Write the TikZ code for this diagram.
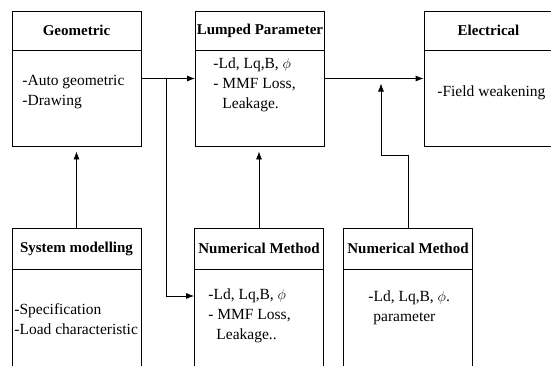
\documentclass[tikz,border=0pt]{standalone}
\usepackage{fontspec}
\setmainfont{Liberation Serif}
\usetikzlibrary{arrows.meta}
\usetikzlibrary{calc}
\usetikzlibrary{positioning}

\begin{document}
\begin{tikzpicture}[
  x=1pt, y=-1pt,
  > = {Latex[length=8pt,width=6pt]},
  line width=0.8pt,
  box/.style = {draw, minimum width=129pt, minimum height=135pt, inner sep=0pt},
  lowbox/.style = {box, minimum height=142pt},
  head/.style = {draw, minimum width=129pt, minimum height=39pt, inner sep=0pt, font=\rmfamily\bfseries\fontsize{15}{18}\selectfont},
  body/.style = {align=left, inner sep=0pt, font=\rmfamily\fontsize{15.5}{20}\selectfont},
  feed/.style = {->, shorten >=5pt}
  ]
	\useasboundingbox (0,0) rectangle (551,365);

	% upper row
	\node[box] (geo) at (76.5,78.5) {};
	\node[box] (lump) at (260,78.5) {};
	\node[box] (elec) at (488.5,78.5) {};

	% lower row
	\node[lowbox] (sys) at (76.5,299) {};
	\node[lowbox] (num1) at (259,299) {};
	\node[lowbox] (num2) at (408,299) {};

	\node[head,anchor=north] (geoT) at (geo.north) {Geometric};
	\node[head,anchor=north] (lumpT) at (lump.north) {Lumped Parameter};
	\node[head,anchor=north] (elecT) at (elec.north) {Electrical};
	\node[head,anchor=north,minimum height=41pt] (sysT) at (sys.north) {System modelling};
	\node[head,anchor=north,minimum height=41pt] (num1T) at (num1.north) {Numerical Method};
	\node[head,anchor=north,minimum height=41pt] (num2T) at (num2.north) {Numerical Method};

	\node[body,anchor=west] (geoB) at (22,92) {-Auto geometric\\-Drawing};
	\node[body,anchor=west] (lumpB) at (213,85) {-Ld, Lq,B, $\phi$\\- MMF Loss,\\\hspace{9pt}Leakage.};
	\node[body,anchor=west] (elecB) at (437,93) {-Field weakening};
	\node[body,anchor=west] (sysB) at (14,319.5) {-Specification\\-Load characteristic};
	\node[body,anchor=west] (num1B) at (208,316) {-Ld, Lq,B, $\phi$\\- MMF Loss,\\\hspace{8pt}Leakage..};
	\node[body,anchor=west] (num2B) at (368,308) {-Ld, Lq,B, $\phi$.\\\hspace{5pt}parameter};

	\coordinate (@1) at (166,78.5);
	\coordinate (@2) at (381,155);

	\draw[->] (geo.east) -- (lump.west);
	\draw[->] (lump.east) -- (elec.west);
	\draw[->] (@1) |- ([yshift=3pt]num1.west);
	\draw[feed] (sys.north) -- (geo.south);
	\draw[feed] (num1.north) -- (num1.north |- lump.south);
	\draw[feed] (num2.north) |- (@2) -- (@2 |- lump.east);

\end{tikzpicture}
\end{document}
